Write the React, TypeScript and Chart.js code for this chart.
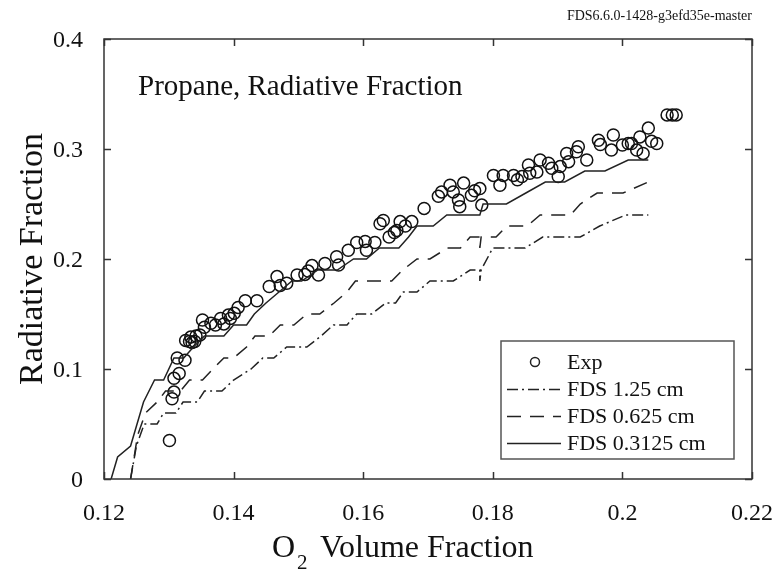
import React, { useEffect, useRef } from "react";
import { Chart, registerables } from "chart.js";
Chart.register(...registerables);

const xTickValues = [0.12, 0.14, 0.16, 0.18, 0.2, 0.22];
const xTickLabels = ["0.12", "0.14", "0.16", "0.18", "0.2", "0.22"];
const yTickValues = [0, 0.1, 0.2, 0.3, 0.4];
const yTickLabels = ["0", "0.1", "0.2", "0.3", "0.4"];

const titleText = "Propane, Radiative Fraction";
const versionText = "FDS6.6.0-1428-g3efd35e-master";
const yAxisTitle = "Radiative Fraction";
const legendLabels = ["Exp", "FDS 1.25 cm", "FDS 0.625 cm", "FDS 0.3125 cm"];

const expX = [
  0.1301, 0.1305, 0.1308, 0.1308, 0.1316, 0.1313, 0.1325, 0.1332, 0.134, 0.1348,
  0.1326, 0.1334, 0.1342, 0.1336, 0.1352, 0.1355, 0.1365, 0.1372, 0.138, 0.1385,
  0.1392, 0.1395, 0.1401, 0.1407, 0.1418, 0.1436, 0.1455, 0.1467, 0.1472, 0.1482,
  0.1498, 0.151, 0.1515, 0.1521, 0.1531, 0.1541, 0.1559, 0.1562, 0.1577, 0.159,
  0.1603, 0.1605, 0.1618, 0.1626, 0.1631, 0.164, 0.1648, 0.1652, 0.1657, 0.1665,
  0.1675, 0.1694, 0.1716, 0.1721, 0.1734, 0.1739, 0.1747, 0.1749, 0.1755, 0.1767,
  0.1772, 0.178, 0.1783, 0.1801, 0.1811, 0.1816, 0.1832, 0.1838, 0.1845, 0.1855,
  0.1857, 0.1868, 0.1873, 0.1886, 0.1891, 0.1901, 0.1904, 0.1914, 0.1917, 0.1929,
  0.1932, 0.1945, 0.1963, 0.1966, 0.1983, 0.1986, 0.2, 0.2009, 0.2014, 0.2022,
  0.2027, 0.2032, 0.204, 0.2045, 0.2053, 0.2069, 0.2077, 0.2083,
];
const expY = [
  0.035, 0.073, 0.079, 0.0915, 0.096, 0.11, 0.108, 0.125, 0.125, 0.131,
  0.126, 0.129, 0.13, 0.124, 0.1445, 0.138, 0.1415, 0.14, 0.146, 0.141,
  0.149, 0.146, 0.1506, 0.156, 0.162, 0.162, 0.175, 0.184, 0.176, 0.178,
  0.1855, 0.186, 0.189, 0.194, 0.1855, 0.196, 0.202, 0.1945, 0.208, 0.215,
  0.216, 0.208, 0.215, 0.232, 0.235, 0.22, 0.224, 0.226, 0.234, 0.23,
  0.234, 0.246, 0.257, 0.261, 0.267, 0.261, 0.2536, 0.2476, 0.269, 0.258,
  0.262, 0.264, 0.249, 0.276, 0.267, 0.276, 0.276, 0.272, 0.275, 0.2855,
  0.278, 0.279, 0.29, 0.287, 0.2825, 0.275, 0.284, 0.296, 0.2885, 0.2975,
  0.302, 0.29, 0.308, 0.304, 0.299, 0.3127, 0.3036, 0.305, 0.305, 0.299,
  0.311, 0.296, 0.319, 0.307, 0.305, 0.331, 0.331, 0.331,
];

const fds125X = [
  0.1241, 0.125, 0.1262, 0.1282, 0.1292, 0.1311, 0.1322, 0.1344, 0.1355, 0.1382,
  0.14, 0.1427, 0.1445, 0.1462, 0.1482, 0.1513, 0.1535, 0.1554, 0.1575, 0.159,
  0.1613, 0.1635, 0.165, 0.1662, 0.1683, 0.1703, 0.1739, 0.1765, 0.178, 0.178,
  0.1782, 0.18, 0.185, 0.1877, 0.1935, 0.1965, 0.2005, 0.204,
];
const fds125Y = [
  0, 0.03, 0.05, 0.05, 0.06, 0.06, 0.07, 0.07, 0.08, 0.08,
  0.09, 0.1, 0.11, 0.11, 0.12, 0.12, 0.13, 0.14, 0.14, 0.15,
  0.15, 0.16, 0.16, 0.17, 0.17, 0.18, 0.18, 0.19, 0.19, 0.18,
  0.19, 0.21, 0.21, 0.22, 0.22, 0.23, 0.24, 0.24,
];

const fds0625X = [
  0.1241, 0.1252, 0.1264, 0.1282, 0.1295, 0.1318, 0.1332, 0.1352, 0.1368, 0.1385,
  0.14, 0.142, 0.1433, 0.1455, 0.1472, 0.1493, 0.1513, 0.1533, 0.1555, 0.1575,
  0.1588, 0.1644, 0.1661, 0.1683, 0.1703, 0.173, 0.175, 0.1765, 0.178, 0.178,
  0.1782, 0.1805, 0.1822, 0.1853, 0.1873, 0.192, 0.1935, 0.1961, 0.2001, 0.204,
];
const fds0625Y = [
  0, 0.04, 0.06, 0.07, 0.08, 0.08, 0.09, 0.09, 0.1, 0.11,
  0.11, 0.12, 0.13, 0.13, 0.14, 0.14, 0.15, 0.15, 0.16, 0.17,
  0.18, 0.18, 0.19, 0.2, 0.2, 0.21, 0.21, 0.22, 0.22, 0.21,
  0.22, 0.22, 0.23, 0.23, 0.24, 0.24, 0.25, 0.26, 0.26, 0.27,
];

const fds03125X = [
  0.1211, 0.1221, 0.1241, 0.1251, 0.1261, 0.1278, 0.1292, 0.1308, 0.1323, 0.1338,
  0.1355, 0.1385, 0.14, 0.142, 0.1432, 0.145, 0.147, 0.149, 0.1505, 0.153,
  0.156, 0.1585, 0.1605, 0.1625, 0.1655, 0.167, 0.1683, 0.1708, 0.1729, 0.178,
  0.1785, 0.1821, 0.1851, 0.1881, 0.1911, 0.1942, 0.1973, 0.2009, 0.204,
];
const fds03125Y = [
  0, 0.02, 0.03, 0.05, 0.07, 0.09, 0.09, 0.11, 0.11, 0.12,
  0.13, 0.13, 0.14, 0.14, 0.15, 0.16, 0.17, 0.18, 0.18, 0.19,
  0.19, 0.2, 0.2, 0.21, 0.21, 0.22, 0.23, 0.23, 0.24, 0.24,
  0.25, 0.25, 0.26, 0.27, 0.27, 0.28, 0.28, 0.29, 0.29,
];

const FONT = '"Liberation Serif", "Times New Roman", serif';
const INK = "#111";
const LINE = "#222";
const DASH_DOT = [11, 4, 2, 4];
const DASHED = [14, 9];

function zip(xs: number[], ys: number[]) {
  return xs.map((x, i) => ({ x, y: ys[i] }));
}

const decorPlugin = {
  id: "decor",
  afterDraw(chart: any) {
    const ctx = chart.ctx as CanvasRenderingContext2D;
    const { left, right, top, bottom } = chart.chartArea;
    const xs = chart.scales.x;
    const ys = chart.scales.y;
    ctx.save();
    ctx.strokeStyle = "#333";
    ctx.lineWidth = 1.5;
    ctx.setLineDash([]);
    ctx.strokeRect(left, top, right - left, bottom - top);
    const tl = 7;
    ctx.beginPath();
    xTickValues.forEach((v) => {
      const px = Math.round(xs.getPixelForValue(v)) + 0.5;
      ctx.moveTo(px, bottom);
      ctx.lineTo(px, bottom - tl);
      ctx.moveTo(px, top);
      ctx.lineTo(px, top + tl);
    });
    yTickValues.forEach((v) => {
      const py = Math.round(ys.getPixelForValue(v)) + 0.5;
      ctx.moveTo(left, py);
      ctx.lineTo(left + tl, py);
      ctx.moveTo(right, py);
      ctx.lineTo(right - tl, py);
    });
    ctx.stroke();

    ctx.fillStyle = INK;
    ctx.font = `24px ${FONT}`;
    ctx.textAlign = "center";
    ctx.textBaseline = "alphabetic";
    xTickValues.forEach((v, i) => {
      ctx.fillText(xTickLabels[i], xs.getPixelForValue(v), bottom + 41);
    });
    ctx.textAlign = "right";
    yTickValues.forEach((v, i) => {
      ctx.fillText(yTickLabels[i], left - 21, ys.getPixelForValue(v) + 8);
    });

    ctx.font = `32px ${FONT}`;
    ctx.textAlign = "left";
    ctx.fillText("O", 272, 557);
    ctx.font = `21px ${FONT}`;
    ctx.fillText("2", 297, 569);
    ctx.font = `32px ${FONT}`;
    ctx.fillText("Volume Fraction", 320, 557);

    ctx.save();
    ctx.translate(42, (top + bottom) / 2);
    ctx.rotate(-Math.PI / 2);
    ctx.textAlign = "center";
    ctx.textBaseline = "alphabetic";
    ctx.font = `34px ${FONT}`;
    ctx.fillText(yAxisTitle, 0, 0);
    ctx.restore();

    ctx.font = `29px ${FONT}`;
    ctx.textAlign = "left";
    ctx.fillText(titleText, 138, 95);

    ctx.font = `14px ${FONT}`;
    ctx.textAlign = "right";
    ctx.fillText(versionText, 752, 20);

    const lx = 501, ly = 341, lw = 233, lh = 118;
    ctx.fillStyle = "#fff";
    ctx.fillRect(lx, ly, lw, lh);
    ctx.strokeStyle = "#555";
    ctx.lineWidth = 1.5;
    ctx.strokeRect(lx, ly, lw, lh);
    const rows = [362, 389, 416, 443];
    const dashes = [null, DASH_DOT, DASHED, []];
    ctx.strokeStyle = LINE;
    rows.forEach((ry, i) => {
      if (i === 0) {
        ctx.setLineDash([]);
        ctx.beginPath();
        ctx.arc(535, ry, 4.5, 0, Math.PI * 2);
        ctx.stroke();
      } else {
        ctx.setLineDash(dashes[i] as number[]);
        ctx.beginPath();
        ctx.moveTo(507, ry + 0.5);
        ctx.lineTo(561, ry + 0.5);
        ctx.stroke();
      }
    });
    ctx.setLineDash([]);
    ctx.fillStyle = INK;
    ctx.font = `22px ${FONT}`;
    ctx.textAlign = "left";
    rows.forEach((ry, i) => {
      ctx.fillText(legendLabels[i], 567, ry + 7);
    });
    ctx.restore();
  },
};

export default function App() {
  const ref = useRef<HTMLCanvasElement | null>(null);
  useEffect(() => {
    document.body.style.margin = "0";
    const canvas = ref.current;
    if (!canvas) return;
    const chart = new Chart(canvas, {
      type: "scatter",
      data: {
        datasets: [
          {
            label: "FDS 1.25 cm",
            data: zip(fds125X, fds125Y),
            showLine: true,
            borderColor: LINE,
            borderWidth: 1.5,
            borderDash: DASH_DOT,
            pointRadius: 0,
            fill: false,
          },
          {
            label: "FDS 0.625 cm",
            data: zip(fds0625X, fds0625Y),
            showLine: true,
            borderColor: LINE,
            borderWidth: 1.5,
            borderDash: DASHED,
            pointRadius: 0,
            fill: false,
          },
          {
            label: "FDS 0.3125 cm",
            data: zip(fds03125X, fds03125Y),
            showLine: true,
            borderColor: LINE,
            borderWidth: 1.5,
            pointRadius: 0,
            fill: false,
          },
          {
            label: "Exp",
            data: zip(expX, expY),
            showLine: false,
            pointStyle: "circle",
            pointRadius: 6,
            pointBorderWidth: 1.5,
            borderColor: "#111",
            backgroundColor: "rgba(0,0,0,0)",
          },
        ],
      },
      options: {
        animation: false,
        responsive: false,
        maintainAspectRatio: false,
        layout: { padding: { left: 104, top: 39, right: 21, bottom: 93 } },
        scales: {
          x: { type: "linear", min: 0.12, max: 0.22, display: false },
          y: { type: "linear", min: 0, max: 0.4, display: false },
        },
        plugins: {
          legend: { display: false },
          tooltip: { enabled: false },
        },
      },
      plugins: [decorPlugin],
    });
    return () => chart.destroy();
  }, []);
  return (
    <div style={{ width: 773, height: 572, background: "#fff" }}>
      <canvas ref={ref} width={773} height={572} style={{ display: "block" }} />
    </div>
  );
}
